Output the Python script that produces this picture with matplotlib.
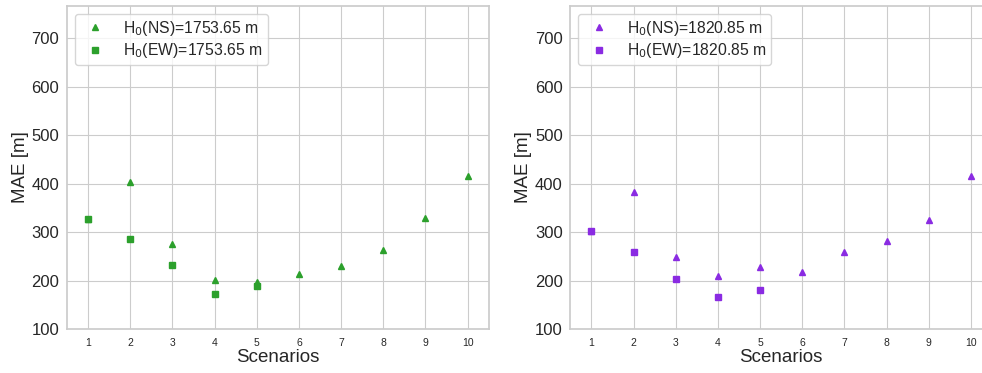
import numpy as np
import matplotlib
matplotlib.use('Agg')
import matplotlib.pyplot as plt
import seaborn as sns

# MAE per scenario for the two sites
scenarios = np.arange(1, 11)

ns_left = [328, 404, 275, 201, 197, 213, 230, 264, 330, 416]
ew_left = [328, 286, 233, 172, 188]
ns_right = [302, 383, 248, 209, 228, 217, 258, 282, 325, 416]
ew_right = [302, 258, 204, 167, 180]

h0_left = 1753.65
h0_right = 1820.85

sns.set_style('whitegrid')
plt.rcParams['font.family'] = ['Liberation Sans', 'DejaVu Sans']
plt.rcParams['axes.linewidth'] = 1.25

fig = plt.figure(figsize=(9.82, 3.73), dpi=100)
ax1 = fig.add_axes([0.0682, 0.118, 0.4295, 0.866])
ax2 = fig.add_axes([0.5808, 0.118, 0.4295, 0.866])

panels = [
    (ax1, ns_left, ew_left, h0_left, '#2ca02c'),
    (ax2, ns_right, ew_right, h0_right, '#8a2be2'),
]

for ax, ns, ew, h0, color in panels:
    ax.plot(scenarios, ns, linestyle='none', marker='^', markersize=5,
            color=color, label='H$_0$(NS)=%.2f m' % h0)
    ax.plot(scenarios[:len(ew)], ew, linestyle='none', marker='s',
            markersize=5, color=color, label='H$_0$(EW)=%.2f m' % h0)
    ax.set_xlim(0.5, 10.5)
    ax.set_ylim(100, 767)
    ax.set_xticks(scenarios)
    ax.set_yticks(range(100, 701, 100))
    ax.tick_params(axis='x', labelsize=7.5, pad=3)
    ax.tick_params(axis='y', labelsize=12, pad=2)
    ax.set_xlabel('Scenarios', fontsize=13.5, labelpad=1)
    ax.set_ylabel('MAE [m]', fontsize=13.5, labelpad=2)
    ax.legend(loc='upper left', fontsize=11.3, labelspacing=0.25,
              borderpad=0.3)

fig.savefig('out.png', dpi=100)
